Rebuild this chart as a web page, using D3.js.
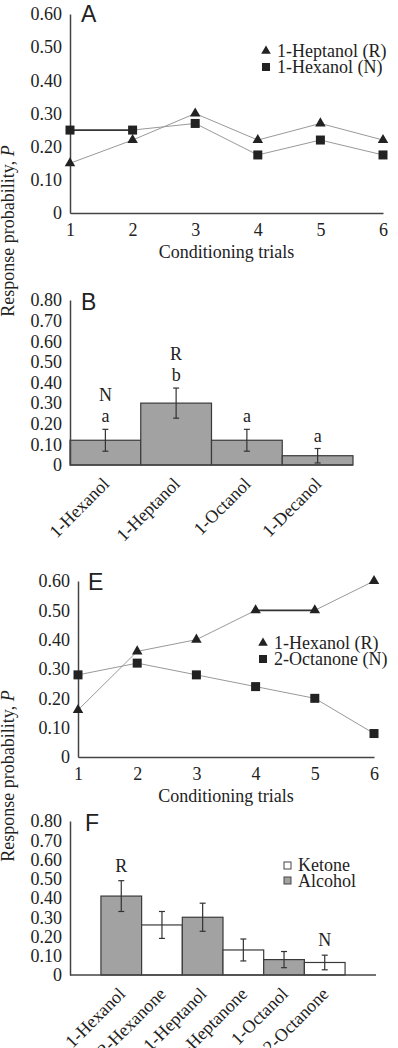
<html>
<head>
<style>
  body { margin: 0; background: #fff; }
  text { font-family: "Liberation Serif", "Times New Roman", serif; fill: #222; }
</style>
</head>
<body>
<div id="chart"></div>

<script type="text/javascript" src="https://cdn.jsdelivr.net/npm/d3@7/dist/d3.min.js"></script>

<script type="text/javascript">
// ---- data ----
var trials = [1, 2, 3, 4, 5, 6]

// panel A
var aHeptanol = [0.15, 0.22, 0.30, 0.22, 0.27, 0.22]
var aHexanol  = [0.25, 0.25, 0.27, 0.175, 0.22, 0.175]
var aLegend = ["1-Heptanol (R)", "1-Hexanol (N)"]

// panel B
var bOdors = ["1-Hexanol", "1-Heptanol", "1-Octanol", "1-Decanol"]
var bMeans = [0.12, 0.30, 0.12, 0.045]
var bErr   = [0.053, 0.073, 0.053, 0.035]
var bSig   = ["a", "b", "a", "a"]
var bRole  = ["N", "R", "", ""]

// panel E
var eHexanol  = [0.16, 0.36, 0.40, 0.50, 0.50, 0.60]
var eOctanone = [0.28, 0.32, 0.28, 0.24, 0.20, 0.08]
var eLegend = ["1-Hexanol (R)", "2-Octanone (N)"]

// panel F
var fOdors = ["1-Hexanol", "2-Hexanone", "1-Heptanol", "2-Heptanone", "1-Octanol", "2-Octanone"]
var fType  = ["Alcohol", "Ketone", "Alcohol", "Ketone", "Alcohol", "Ketone"]
var fMeans = [0.41, 0.26, 0.30, 0.13, 0.08, 0.065]
var fErr   = [0.08, 0.07, 0.073, 0.057, 0.042, 0.038]
var fRole  = ["R", "", "", "", "", "N"]
var fLegend = ["Ketone", "Alcohol"]

var yTicksLine = [0, 0.1, 0.2, 0.3, 0.4, 0.5, 0.6]
var yTicksBar  = [0, 0.1, 0.2, 0.3, 0.4, 0.5, 0.6, 0.7, 0.8]

var axisColor = "#444"
var barGray = "#a2a2a2"
var markColor = "#222"
var fmt = function(d){ return d === 0 ? "0" : d3.format(".2f")(d) }

var svg = d3.select("#chart")
            .append("svg")
            .attr("width", 398)
            .attr("height", 1048)

function styleAxis(g) {
  g.select(".domain").attr("stroke", axisColor).attr("stroke-width", 1.5)
  g.selectAll("text").style("font-size", "18px").attr("fill", "#222")
         .style("font-family", "'Liberation Serif', serif")
}

// ---- line panels (A, E) ----
function linePanel(opt) {
  var x = d3.scaleLinear().domain([1, 6]).range([opt.x0, opt.x1])
  var y = d3.scaleLinear().domain([0, 0.6]).range([opt.yb, opt.yt])

  svg.append("g")
     .attr("transform", "translate(0," + opt.yb + ")")
     .call(d3.axisBottom(x).tickValues(trials).tickFormat(d3.format("d")).tickSize(0).tickPadding(10))
     .call(styleAxis)
  svg.append("g")
     .attr("transform", "translate(" + opt.x0 + ",0)")
     .call(d3.axisLeft(y).tickValues(yTicksLine).tickFormat(fmt).tickSize(0).tickPadding(8))
     .call(styleAxis)

  svg.append("text").attr("x", (opt.x0 + opt.x1) / 2).attr("y", opt.yb + 45)
     .attr("text-anchor", "middle").style("font-size", "18px").text("Conditioning trials")

  svg.append("text").attr("x", opt.lx).attr("y", opt.ly)
     .style("font-family", "'Liberation Sans', Arial, sans-serif").style("font-size", "23px")
     .attr("fill", "#333").text(opt.letter)

  var series = [opt.tri, opt.sq]
  series.forEach(function(vals, si) {
    var pts = trials.map(function(t, i){ return [x(t), y(vals[i]), vals[i]] })
    // thin connecting segments; equal neighbours render as a dark bar in the original
    for (var i = 0; i < pts.length - 1; i++) {
      var flat = pts[i][2] === pts[i + 1][2]
      svg.append("line")
         .attr("x1", pts[i][0]).attr("y1", pts[i][1])
         .attr("x2", pts[i + 1][0]).attr("y2", pts[i + 1][1])
         .attr("stroke", flat ? "#333" : "#999")
         .attr("stroke-width", flat ? 1.6 : 1)
    }
  })

  var triSym = d3.symbol().type(d3.symbolTriangle).size(48)
  svg.selectAll(null).data(opt.tri).enter().append("path")
     .attr("d", triSym)
     .attr("transform", function(d, i){ return "translate(" + x(trials[i]) + "," + y(d) + ")" })
     .attr("fill", markColor)
  svg.selectAll(null).data(opt.sq).enter().append("rect")
     .attr("x", function(d, i){ return x(trials[i]) - 4.5 })
     .attr("y", function(d){ return y(d) - 4.5 })
     .attr("width", 9).attr("height", 9)
     .attr("fill", markColor)

  // legend
  svg.append("path").attr("d", d3.symbol().type(d3.symbolTriangle).size(40))
     .attr("transform", "translate(" + opt.legX + "," + (opt.legY - 6) + ")").attr("fill", markColor)
  svg.append("rect").attr("x", opt.legX - 4).attr("y", opt.legY + 16 - 10)
     .attr("width", 8).attr("height", 8).attr("fill", markColor)
  opt.legend.forEach(function(t, i) {
    svg.append("text").attr("x", opt.legX + 11).attr("y", opt.legY + i * 16)
       .style("font-size", "18px").text(t)
  })
}

// ---- bar panels (B, F) ----
function barPanel(opt) {
  var x = d3.scaleBand().domain(opt.cats).range([opt.x0, opt.x1])
            .paddingInner(0).paddingOuter(opt.pad)
  var y = d3.scaleLinear().domain([0, 0.8]).range([opt.yb, opt.yt])

  svg.selectAll(null).data(opt.cats).enter().append("rect")
     .attr("x", function(d){ return x(d) })
     .attr("y", function(d, i){ return y(opt.means[i]) })
     .attr("width", x.bandwidth())
     .attr("height", function(d, i){ return opt.yb - y(opt.means[i]) })
     .attr("fill", function(d, i){ return opt.fill(i) })
     .attr("stroke", "#3a3a3a").attr("stroke-width", 1.2)

  // error bars
  opt.cats.forEach(function(c, i) {
    var cx = x(c) + x.bandwidth() / 2
    var hi = y(opt.means[i] + opt.err[i]), lo = y(opt.means[i] - opt.err[i])
    var g = svg.append("g").attr("stroke", "#333").attr("stroke-width", 1.2)
    g.append("line").attr("x1", cx).attr("x2", cx).attr("y1", hi).attr("y2", lo)
    g.append("line").attr("x1", cx - 3).attr("x2", cx + 3).attr("y1", hi).attr("y2", hi)
    g.append("line").attr("x1", cx - 3).attr("x2", cx + 3).attr("y1", lo).attr("y2", lo)

    var base = hi - opt.labGap
    if (opt.sig) {
      svg.append("text").attr("x", cx).attr("y", base).attr("text-anchor", "middle")
         .style("font-size", "18px").text(opt.sig[i])
      base -= opt.roleGap
    }
    if (opt.role[i]) {
      svg.append("text").attr("x", cx).attr("y", base).attr("text-anchor", "middle")
         .style("font-size", "18px").text(opt.role[i])
    }
  })

  var xa = svg.append("g")
     .attr("transform", "translate(0," + opt.yb + ")")
     .call(d3.axisBottom(x).tickSize(0).tickPadding(0))
     .call(styleAxis)
  xa.select(".domain").attr("d", "M" + opt.x0 + ",0H" + opt.axEnd)
  xa.selectAll(".tick text")
     .attr("text-anchor", "end")
     .attr("dy", null).attr("y", null)
     .attr("transform", "translate(5,20) rotate(-45)")

  svg.append("g")
     .attr("transform", "translate(" + opt.x0 + ",0)")
     .call(d3.axisLeft(y).tickValues(yTicksBar).tickFormat(fmt).tickSize(0).tickPadding(8))
     .call(styleAxis)

  svg.append("text").attr("x", opt.lx).attr("y", opt.ly)
     .style("font-family", "'Liberation Sans', Arial, sans-serif").style("font-size", "23px")
     .attr("fill", "#333").text(opt.letter)
}

linePanel({x0: 70, x1: 383, yb: 213, yt: 14, tri: aHeptanol, sq: aHexanol,
           legend: aLegend, legX: 266, legY: 57, letter: "A", lx: 81, ly: 22})

barPanel({cats: bOdors, means: bMeans, err: bErr, sig: bSig, role: bRole,
          x0: 70, x1: 353, axEnd: 353, pad: 0, yb: 465, yt: 300,
          labGap: 7, roleGap: 21, fill: function(){ return barGray },
          letter: "B", lx: 81, ly: 310})

linePanel({x0: 78, x1: 374, yb: 757, yt: 581, tri: eHexanol, sq: eOctanone,
           legend: eLegend, legX: 263, legY: 649, letter: "E", lx: 88, ly: 590})

barPanel({cats: fOdors, means: fMeans, err: fErr, sig: null, role: fRole,
          x0: 70, x1: 376, axEnd: 376, pad: 0.76, yb: 975, yt: 821,
          labGap: 9, roleGap: 0, fill: function(i){ return fType[i] === "Alcohol" ? barGray : "#fff" },
          letter: "F", lx: 85, ly: 831})

// legend for F
fLegend.forEach(function(t, i) {
  svg.append("rect").attr("x", 284).attr("y", 862 + i * 15).attr("width", 7).attr("height", 7)
     .attr("fill", t === "Alcohol" ? barGray : "#fff").attr("stroke", "#444").attr("stroke-width", 1)
  svg.append("text").attr("x", 298).attr("y", 871 + i * 16).style("font-size", "18px").text(t)
})

// shared y titles
var yTitles = [231, 776]
yTitles.forEach(function(cy) {
  var t = svg.append("text")
     .attr("transform", "translate(14," + cy + ") rotate(-90)")
     .attr("text-anchor", "middle").style("font-size", "18px")
  t.append("tspan").text("Response probability, ")
  t.append("tspan").style("font-style", "italic").text("P")
})
</script>
</body>
</html>
